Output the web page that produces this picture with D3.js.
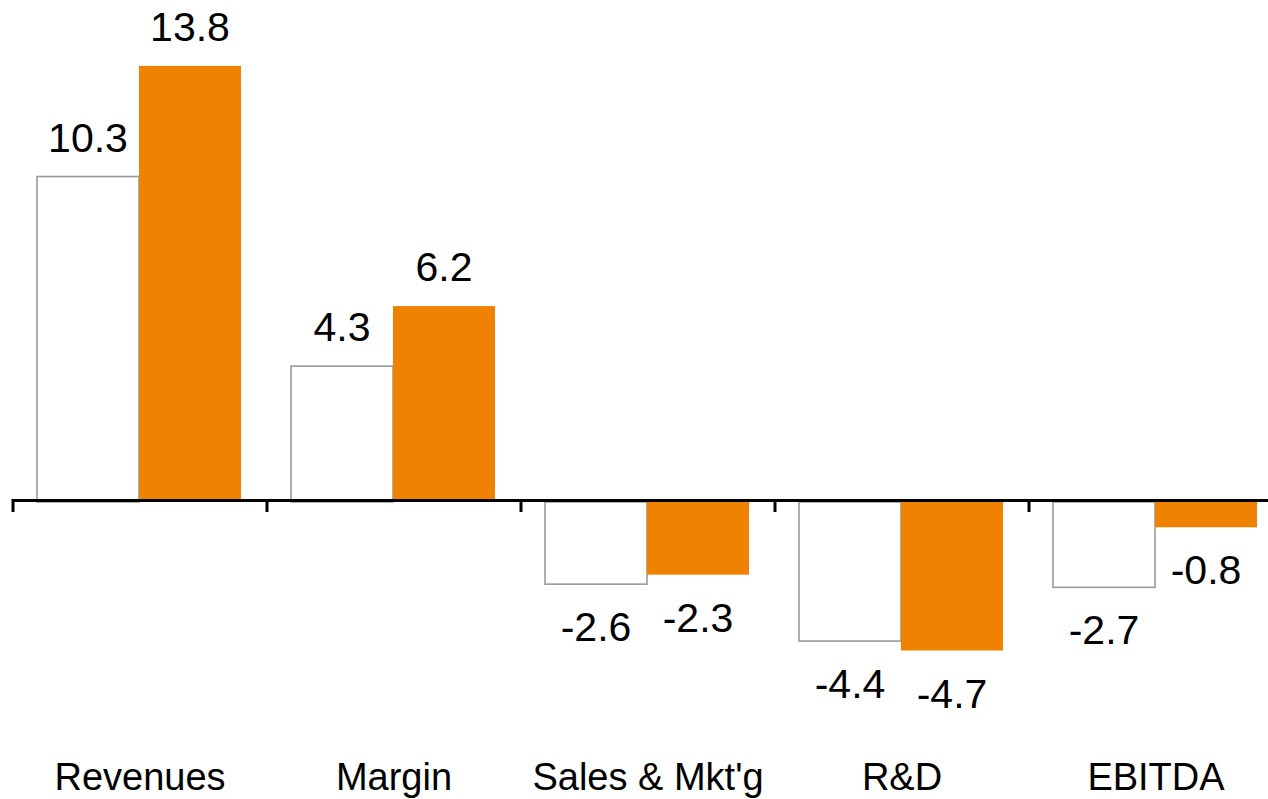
<!DOCTYPE html>
<html>
<head>
<meta charset="utf-8">
<script src="https://cdn.jsdelivr.net/npm/d3@7"></script>
<style>
  body { margin: 0; background: #fff; }
  text { font-family: "Liberation Sans", Arial, sans-serif; fill: #000; }
</style>
</head>
<body>
<div id="chart"></div>
<script>
var categories = ["Revenues", "Margin", "Sales & Mkt'g", "R&D", "EBITDA"];
var series = ["prior", "current"];
var priorValues = [10.3, 4.3, -2.6, -4.4, -2.7];
var currentValues = [13.8, 6.2, -2.3, -4.7, -0.8];
var valueLabels = ["10.3", "4.3", "-2.6", "-4.4", "-2.7"];
var currentLabels = ["13.8", "6.2", "-2.3", "-4.7", "-0.8"];

var width = 1268, height = 799;
var zeroY = 502, unit = 31.6;

var svg = d3.select("#chart").append("svg")
    .attr("width", width)
    .attr("height", height);

var xScale = d3.scaleBand()
    .domain(categories)
    .range([13, 13 + 254 * categories.length]);

var xSub = d3.scaleBand()
    .domain(series)
    .range([24, 228]);

var yScale = d3.scaleLinear()
    .domain([-5, 14])
    .range([zeroY + 5 * unit, zeroY - 14 * unit]);

var data = categories.map(function(c, i) {
  return {cat: c, values: [
    {key: "prior", value: priorValues[i], label: valueLabels[i]},
    {key: "current", value: currentValues[i], label: currentLabels[i]}
  ]};
});

var groups = svg.selectAll(".cat")
  .data(data)
  .enter().append("g")
    .attr("class", "cat")
    .attr("transform", function(d) { return "translate(" + xScale(d.cat) + ",0)"; });

groups.selectAll("rect")
  .data(function(d) { return d.values; })
  .enter().append("rect")
    .attr("x", function(d) { return xSub(d.key); })
    .attr("width", xSub.bandwidth())
    .attr("y", function(d) { return Math.min(yScale(d.value), yScale(0)); })
    .attr("height", function(d) { return Math.abs(yScale(d.value) - yScale(0)); })
    .style("fill", function(d) { return d.key === "prior" ? "#fff" : "#ef8200"; })
    .style("stroke", function(d) { return d.key === "prior" ? "#9a9a9a" : "none"; })
    .style("stroke-width", 1.6);

groups.selectAll(".val")
  .data(function(d) { return d.values; })
  .enter().append("text")
    .attr("class", "val")
    .attr("x", function(d) { return xSub(d.key) + xSub.bandwidth() / 2; })
    .attr("y", function(d) {
      return d.value >= 0 ? yScale(d.value) - 25 : yScale(d.value) + 57;
    })
    .attr("text-anchor", "middle")
    .style("font-size", "41px")
    .text(function(d) { return d.label; });

// axis
var axis = svg.append("g").attr("class", "axis");
axis.append("line")
    .attr("x1", 12).attr("x2", width)
    .attr("y1", zeroY - 1.5).attr("y2", zeroY - 1.5)
    .style("stroke", "#000").style("stroke-width", 3);

axis.selectAll(".tick")
  .data(categories)
  .enter().append("line")
    .attr("class", "tick")
    .attr("x1", function(d) { return xScale(d); })
    .attr("x2", function(d) { return xScale(d); })
    .attr("y1", zeroY - 3).attr("y2", zeroY + 10)
    .style("stroke", "#000").style("stroke-width", 3);

svg.selectAll(".catlabel")
  .data(categories)
  .enter().append("text")
    .attr("class", "catlabel")
    .attr("x", function(d) { return xScale(d) + xScale.bandwidth() / 2; })
    .attr("y", 790)
    .attr("text-anchor", "middle")
    .style("font-size", "38px")
    .text(function(d) { return d; });
</script>
</body>
</html>
